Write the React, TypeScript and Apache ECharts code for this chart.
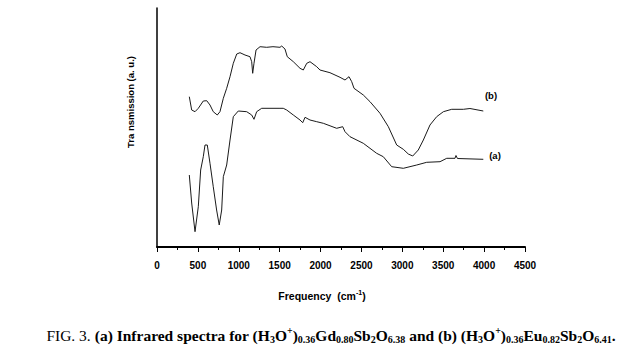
import React, { useEffect, useRef } from "react";
import * as echarts from "echarts";

// Frequency (cm-1), transmission (a.u., arbitrary units above the axis)
const freqB = [395, 424, 465, 505, 566, 608, 648, 688, 737, 770, 811, 852, 893, 933, 975, 1015, 1076, 1137, 1158, 1170, 1186, 1211, 1260, 1341, 1418, 1504, 1525, 1565, 1593, 1667, 1749, 1789, 1831, 1871, 1953, 1993, 2115, 2238, 2299, 2348, 2381, 2409, 2523, 2605, 2727, 2829, 2931, 3012, 3073, 3127, 3195, 3257, 3338, 3420, 3502, 3604, 3747, 3827, 3990];
const transB = [150.3, 137, 135.3, 138.7, 146, 146.3, 142, 135.3, 132, 135.3, 148.7, 158.7, 170.3, 183.7, 193, 194.3, 192, 190.3, 185.3, 173.7, 183.7, 197, 200.3, 199.7, 200.3, 199.7, 201, 198, 190.3, 185.3, 178.7, 177, 183.7, 185.3, 180.3, 177, 174.3, 169.7, 167, 170.3, 165.3, 158.7, 152, 145.3, 133.7, 120.3, 102, 97.7, 93, 91, 97, 107, 122, 130.3, 135.3, 137.7, 137.7, 138.5, 136];

const freqA = [395, 424, 465, 505, 534, 566, 587, 615, 648, 688, 729, 761, 791, 811, 852, 893, 933, 994, 1097, 1158, 1186, 1219, 1280, 1504, 1544, 1586, 1667, 1749, 1782, 1810, 1871, 1953, 2034, 2197, 2271, 2299, 2360, 2523, 2686, 2767, 2870, 3012, 3176, 3298, 3461, 3543, 3644, 3656, 3674, 3990];
const transA = [72, 44, 15.3, 40.3, 77, 90.3, 102, 102, 83.7, 60.3, 37, 22, 37, 70.3, 82, 107, 130.3, 136, 135.3, 132, 127.7, 135.3, 138.7, 138.7, 138.7, 137, 132, 127, 124.3, 129.7, 127, 125.3, 123.7, 118.7, 120.3, 115.3, 110.3, 103.7, 93.7, 90.3, 80.3, 78.7, 82, 84.7, 85.3, 88.7, 88.7, 91.5, 88.5, 87.7];

const xTicks = { min: 0, max: 4500, interval: 500 };
const yRange = { min: 0, max: 239 };

const labelA = "(a)";
const labelB = "(b)";
const yTitle = "Tra nsmission (a. u.)";

export default function App() {
  const ref = useRef<HTMLDivElement>(null);
  useEffect(() => {
    if (!ref.current) return;
    const chart = echarts.init(ref.current, undefined, { renderer: "svg" });
    const pairs = (xs: number[], ys: number[]) => xs.map((x, i) => [x, ys[i]]);
    const sans = "'Liberation Sans', Arial, sans-serif";
    const serif = "'Liberation Serif', 'Times New Roman', serif";
    const lineStyle = { color: "#1a1a1a", width: 1 };
    chart.setOption({
      animation: false,
      backgroundColor: "#ffffff",
      grid: { left: 157, right: 115, top: 8, bottom: 116 },
      xAxis: {
        type: "value",
        min: xTicks.min,
        max: xTicks.max,
        interval: xTicks.interval,
        axisLine: { show: true, lineStyle: { color: "#000", width: 2 } },
        axisTick: { show: true, length: 5, lineStyle: { color: "#000", width: 1 } },
        minorTick: { show: true, splitNumber: 2, length: 3, lineStyle: { color: "#000", width: 1 } },
        splitLine: { show: false },
        axisLabel: {
          color: "#000",
          fontFamily: sans,
          fontWeight: "bold",
          fontSize: 10,
          margin: 13,
          formatter: (v: number) => String(v),
        },
      },
      yAxis: {
        type: "value",
        min: yRange.min,
        max: yRange.max,
        axisLine: { show: true, onZero: false, lineStyle: { color: "#000", width: 1.5 } },
        axisTick: { show: false },
        axisLabel: { show: false },
        splitLine: { show: false },
      },
      series: [
        {
          name: labelB,
          type: "line",
          data: pairs(freqB, transB),
          showSymbol: false,
          lineStyle,
        },
        {
          name: labelA,
          type: "line",
          data: pairs(freqA, transA),
          showSymbol: false,
          lineStyle,
        },
      ],
      graphic: [
        {
          type: "text",
          x: 130,
          y: 102,
          rotation: Math.PI / 2,
          style: {
            text: yTitle,
            font: `bold 9.5px ${sans}`,
            fill: "#000",
            align: "center",
            verticalAlign: "middle",
          },
        },
        {
          type: "text",
          x: 491,
          y: 95,
          style: { text: labelB, font: `bold 9.5px ${sans}`, fill: "#000", align: "center", verticalAlign: "middle" },
        },
        {
          type: "text",
          x: 495,
          y: 155,
          style: { text: labelA, font: `bold 9.5px ${sans}`, fill: "#000", align: "center", verticalAlign: "middle" },
        },
        {
          type: "text",
          x: 322,
          y: 295,
          style: {
            text: "{t|Frequency  (cm}{s|-1}{t|)}",
            align: "center",
            verticalAlign: "middle",
            rich: {
              t: { fontFamily: sans, fontWeight: "bold", fontSize: 10.5, fill: "#000", lineHeight: 13, verticalAlign: "bottom" },
              s: { fontFamily: sans, fontWeight: "bold", fontSize: 7, fill: "#000", lineHeight: 13, verticalAlign: "top" },
            },
          },
        },
        {
          type: "text",
          x: 331,
          y: 335,
          style: {
            text:
              "{r|FIG. 3. }{b|(a) Infrared spectra for (H}{s|3}{b|O}{p|+}{b|)}{s|0.36}{b|Gd}{s|0.80}{b|Sb}{s|2}{b|O}{s|6.38}{b| and (b) (H}{s|3}{b|O}{p|+}{b|)}{s|0.36}{b|Eu}{s|0.82}{b|Sb}{s|2}{b|O}{s|6.41}{b|.}",
            align: "center",
            verticalAlign: "middle",
            rich: {
              r: { fontFamily: serif, fontSize: 15.5, fill: "#000", lineHeight: 19, verticalAlign: "middle" },
              b: { fontFamily: serif, fontWeight: "bold", fontSize: 15.5, fill: "#000", lineHeight: 19, verticalAlign: "middle" },
              s: { fontFamily: serif, fontWeight: "bold", fontSize: 10, fill: "#000", lineHeight: 19, verticalAlign: "bottom" },
              p: { fontFamily: serif, fontWeight: "bold", fontSize: 10, fill: "#000", lineHeight: 19, verticalAlign: "top" },
            },
          },
        },
      ],
    });
    return () => chart.dispose();
  }, []);
  return <div ref={ref} style={{ position: "absolute", left: 0, top: 0, width: 640, height: 363 }} />;
}
